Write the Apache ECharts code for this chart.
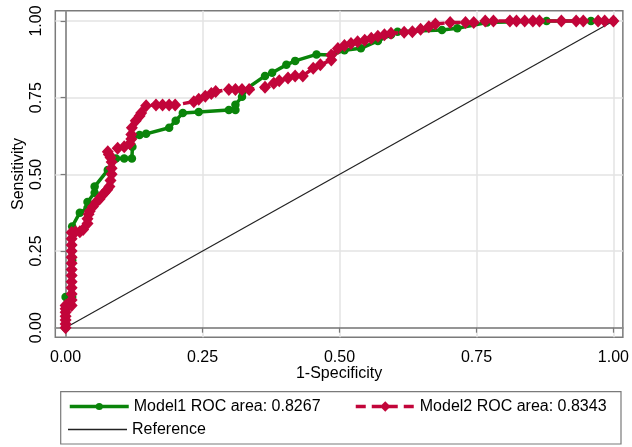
<!DOCTYPE html>
<html>
<head>
<meta charset="utf-8">
<script src="https://cdn.jsdelivr.net/npm/echarts@6/dist/echarts.min.js"></script>
<style>html,body{margin:0;padding:0;background:#fff;}#c{width:632px;height:447px;}</style>
</head>
<body>
<div id="c"></div>
<script>
const tickValues = [0, 0.25, 0.5, 0.75, 1];

const m1X = [0,0,0, 0.012,0.012,0.012, 0.026, 0.04,0.04, 0.053,0.053, 0.077, 0.092,0.107,0.121, 0.122,0.122, 0.135,0.147, 0.189,0.201,0.214, 0.243,0.298,0.31,0.31, 0.322,0.323, 0.364,0.377,0.403,0.419, 0.458,0.485,0.509,0.539, 0.57,0.594,0.606, 0.687,0.715, 0.769, 0.878,0.959,1];
const m1Y = [0,0.05,0.10, 0.10,0.22,0.33, 0.375, 0.39,0.41, 0.44,0.46, 0.514, 0.552,0.552,0.552, 0.59,0.62, 0.628,0.632, 0.652,0.675,0.70, 0.703,0.71,0.71,0.727, 0.753,0.77, 0.821,0.831,0.857,0.87, 0.891,0.889,0.905,0.911, 0.935,0.955,0.965, 0.971,0.976, 0.995, 1,1,1];

const m2X = [0,0,0,0,0,0,0, 0.011,0.011,0.011,0.011,0.011,0.011,0.011,0.011,0.011,0.011,0.011,0.011,0.011, 0.018,0.026,0.032, 0.04,0.04,0.042,0.044, 0.05,0.056,0.062,0.066,0.071,0.076, 0.08,0.082,0.084,0.084,0.084,0.082,0.079,0.077, 0.095,0.107, 0.117,0.12,0.12,0.121, 0.128,0.135,0.138,0.147, 0.165,0.177,0.189,0.2, 0.234,0.243,0.255,0.266,0.274, 0.298,0.31,0.322,0.335, 0.364,0.38,0.39,0.406,0.419,0.433, 0.452,0.465,0.485,0.485,0.497,0.509,0.521,0.533,0.546,0.558,0.57,0.582,0.594, 0.618,0.633,0.648,0.663,0.675, 0.702,0.73,0.745, 0.766,0.781,0.811,0.823,0.838,0.853,0.865, 0.905,0.932,0.945,0.972,0.984,1];
const m2Y = [0,0.012,0.025,0.037,0.05,0.062,0.072, 0.072,0.09,0.11,0.13,0.15,0.17,0.19,0.21,0.23,0.25,0.27,0.29,0.31, 0.313,0.313,0.32, 0.34,0.355,0.37,0.38, 0.395,0.41,0.42,0.43,0.44,0.45, 0.46,0.48,0.5,0.52,0.54,0.555,0.565,0.574, 0.585,0.59, 0.6,0.615,0.63,0.652, 0.675,0.69,0.7,0.724, 0.726,0.726,0.726,0.726, 0.737,0.745,0.755,0.764,0.77, 0.777,0.777,0.777,0.777, 0.784,0.797,0.805,0.814,0.821,0.821, 0.846,0.857,0.873,0.889,0.91,0.92,0.927,0.932,0.937,0.944,0.95,0.955,0.96, 0.963,0.965,0.973,0.981,0.99, 0.995,0.995,0.995, 1,1,1,1,1,1,1, 1,1,1,1,1,1];

const refX = [0, 1];
const refY = [0, 1];

const names = ['Model1 ROC area: 0.8267', 'Model2 ROC area: 0.8343', 'Reference'];

const zip = (xs, ys) => xs.map((x, i) => [x, ys[i]]);
const font = 'Liberation Sans, Arial, sans-serif';
const axisColor = '#7a7a7a';
const gridColor = '#e3e3e3';
const green = '#0a840a';
const red = '#c2053a';
const legendText = {fontSize: 16, color: '#000', fontFamily: font};

const chart = echarts.init(document.getElementById('c'), null, {renderer: 'canvas'});
chart.setOption({
  animation: false,
  backgroundColor: '#fff',
  textStyle: {fontFamily: font},
  grid: {left: 55.3, right: 5, top: 10.7, bottom: 109.7, show: true, borderColor: axisColor, borderWidth: 1.5, containLabel: false},
  xAxis: {
    type: 'value', min: -0.0188, max: 1.0172,
    name: '1-Specificity', nameLocation: 'middle', nameGap: 28, nameMoveOverlap: false,
    nameTextStyle: {fontSize: 16, color: '#000', fontFamily: font},
    axisLine: {show: true, lineStyle: {color: axisColor, width: 1.5}},
    axisTick: {show: true, customValues: tickValues, length: 5, lineStyle: {color: axisColor, width: 1.2}},
    axisLabel: {customValues: tickValues, formatter: v => v.toFixed(2), fontSize: 16, color: '#000', margin: 12, fontFamily: font},
    splitLine: {show: true, lineStyle: {color: gridColor, width: 1.5}}
  },
  yAxis: {
    type: 'value', min: -0.0313, max: 1.0336,
    name: 'Sensitivity', nameLocation: 'middle', nameGap: 29, nameMoveOverlap: false,
    nameTextStyle: {fontSize: 16, color: '#000', fontFamily: font},
    axisLine: {show: true, lineStyle: {color: axisColor, width: 1.5}},
    axisTick: {show: true, customValues: tickValues, length: 5, lineStyle: {color: axisColor, width: 1.2}},
    axisLabel: {customValues: tickValues, formatter: v => v.toFixed(2), fontSize: 16, color: '#000', margin: 11, rotate: 90, fontFamily: font},
    splitLine: {show: true, lineStyle: {color: gridColor, width: 1.5}}
  },
  legend: [
    {data: [names[0]], left: 68, top: 398.5, padding: 0, itemWidth: 59, itemHeight: 9, itemGap: 10,
     lineStyle: {width: 3.5}, textStyle: legendText},
    {data: [names[1]], left: 354, top: 398.5, padding: 0, itemWidth: 59, itemHeight: 13, itemGap: 10,
     lineStyle: {width: 3.5}, textStyle: legendText},
    {data: [{name: names[2], icon: 'rect'}], left: 68, top: 421.5, padding: 0, itemWidth: 59, itemHeight: 1.4, itemGap: 10,
     textStyle: legendText}
  ],
  graphic: [{
    type: 'rect', shape: {x: 60.7, y: 391.7, width: 560.3, height: 52.3},
    style: {fill: 'none', stroke: axisColor, lineWidth: 1.2}, silent: true
  }],
  series: [
    {name: names[2], type: 'line', data: zip(refX, refY), symbol: 'none', z: 1,
     lineStyle: {color: '#222', width: 1.2}, itemStyle: {color: '#222'}},
    {name: names[0], type: 'line', data: zip(m1X, m1Y), symbol: 'circle', symbolSize: 8.5, z: 2,
     lineStyle: {color: green, width: 3.5}, itemStyle: {color: green}},
    {name: names[1], type: 'line', data: zip(m2X, m2Y), symbol: 'diamond', symbolSize: [12, 13], z: 3,
     lineStyle: {color: red, width: 3.5, type: [10, 6]}, itemStyle: {color: red}}
  ]
});
</script>
</body>
</html>
